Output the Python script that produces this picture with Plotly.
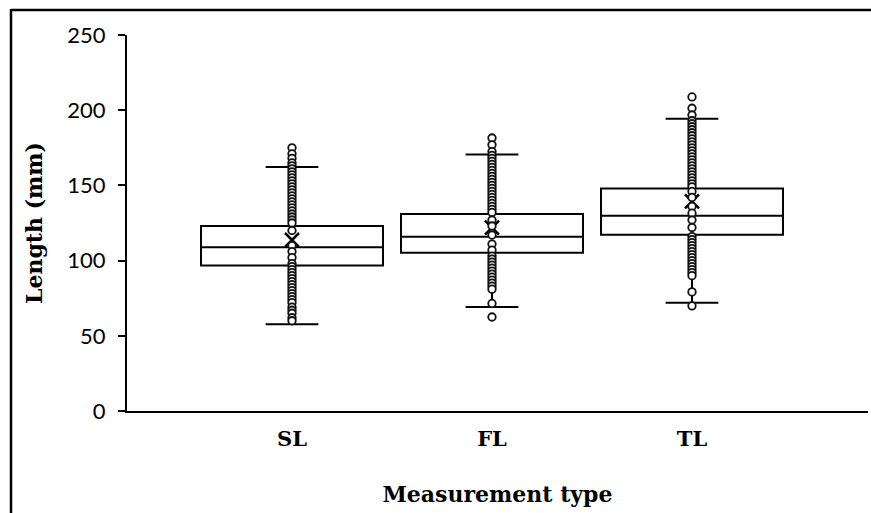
import plotly.graph_objects as go

categories = ["SL", "FL", "TL"]
q1_vals = [96.8, 105.2, 117.2]
median_vals = [108.8, 115.9, 129.9]
q3_vals = [123.0, 131.0, 147.9]
lower_whisker = [57.7, 69.2, 71.9]
upper_whisker = [162.3, 170.5, 194.3]
mean_vals = [113.7, 122.0, 139.3]

sl_points = [175, 171, 168, 165, 163, 161, 159, 157, 155, 153, 151, 149, 147,
             145, 143, 141, 139, 137, 135, 133, 131, 129, 127, 125, 120, 110,
             106, 102, 98, 96, 94, 92, 90, 88, 86, 84, 82, 80, 78, 76, 74, 72,
             69, 67, 65, 62, 60]
fl_points = [181.5, 177, 172.5, 170, 168, 166, 164, 162, 160, 158, 156, 154,
             152, 150, 148, 146, 144, 142, 140, 138, 136, 134, 132, 127, 123,
             117, 111, 107, 103, 101, 99, 97, 95, 93, 91, 89, 87, 85, 83, 81,
             71.5, 62.5]
tl_points = [208.8, 201.3, 196.8, 193, 191, 189, 187, 185, 183, 181, 179, 177,
             175, 173, 171, 169, 167, 165, 163, 161, 159, 157, 155, 153, 151,
             149, 146, 142, 136, 131.5, 127, 122, 116, 114, 112, 110, 108, 106,
             104, 102, 100, 98, 96, 94, 92, 90, 79.2, 69.9]
point_sets = [sl_points, fl_points, tl_points]

fig = go.Figure()

for i, cat in enumerate(categories):
    fig.add_trace(go.Box(
        x=[i], q1=[q1_vals[i]], median=[median_vals[i]], q3=[q3_vals[i]],
        lowerfence=[lower_whisker[i]], upperfence=[upper_whisker[i]],
        width=0.91, whiskerwidth=0.29,
        fillcolor="white", line=dict(color="black", width=2),
        boxpoints=False, showlegend=False, name=cat, hoverinfo="skip",
    ))

fig.add_trace(go.Scatter(
    x=list(range(len(categories))), y=mean_vals, mode="markers",
    marker=dict(symbol="x-thin-open", size=14, color="black",
                line=dict(color="black", width=2.5)),
    showlegend=False, hoverinfo="skip",
))

for i, pts in enumerate(point_sets):
    fig.add_trace(go.Scatter(
        x=[i] * len(pts), y=pts, mode="markers",
        marker=dict(symbol="circle", size=7.5, color="white",
                    line=dict(color="#111111", width=1.8)),
        showlegend=False, hoverinfo="skip",
    ))

W, H = 871, 513
ml, mr, mt, mb = 127, 3, 35, 102
pw = W - ml - mr
ph = H - mt - mb

def px_x(p):
    return (p - ml) / pw

def px_y(p):
    return (H - mb - p) / ph

fig.update_layout(
    width=W, height=H,
    margin=dict(l=ml, r=mr, t=mt, b=mb),
    paper_bgcolor="white", plot_bgcolor="white",
    xaxis=dict(
        range=[-0.825, 2.88], tickmode="array",
        tickvals=list(range(len(categories))), ticktext=categories,
        showline=True, linecolor="black", linewidth=2, ticks="",
        showgrid=False, zeroline=False,
        tickfont=dict(family="DejaVu Serif", size=21, color="black", weight="bold"),
        ticklabelstandoff=8,
        title=dict(text="<b>Measurement type</b>", standoff=36,
                   font=dict(family="DejaVu Serif", size=22, color="black")),
    ),
    yaxis=dict(
        range=[0, 250], dtick=50, tick0=0,
        showline=True, linecolor="black", linewidth=2,
        ticks="outside", ticklen=7, tickwidth=2, tickcolor="black",
        showgrid=False, zeroline=False,
        tickfont=dict(family="Lato", size=22, color="black"),
        ticklabelstandoff=8,
        title=dict(text="<b>Length (mm)</b>", standoff=19,
                   font=dict(family="DejaVu Serif", size=22, color="black")),
    ),
    shapes=[
        dict(type="line", xref="paper", yref="paper",
             x0=px_x(11), x1=px_x(W + 5), y0=px_y(10), y1=px_y(10),
             line=dict(color="black", width=2.5)),
        dict(type="line", xref="paper", yref="paper",
             x0=px_x(11), x1=px_x(11), y0=px_y(9), y1=px_y(H + 5),
             line=dict(color="black", width=2.5)),
    ],
)

fig.write_html("out.html")
